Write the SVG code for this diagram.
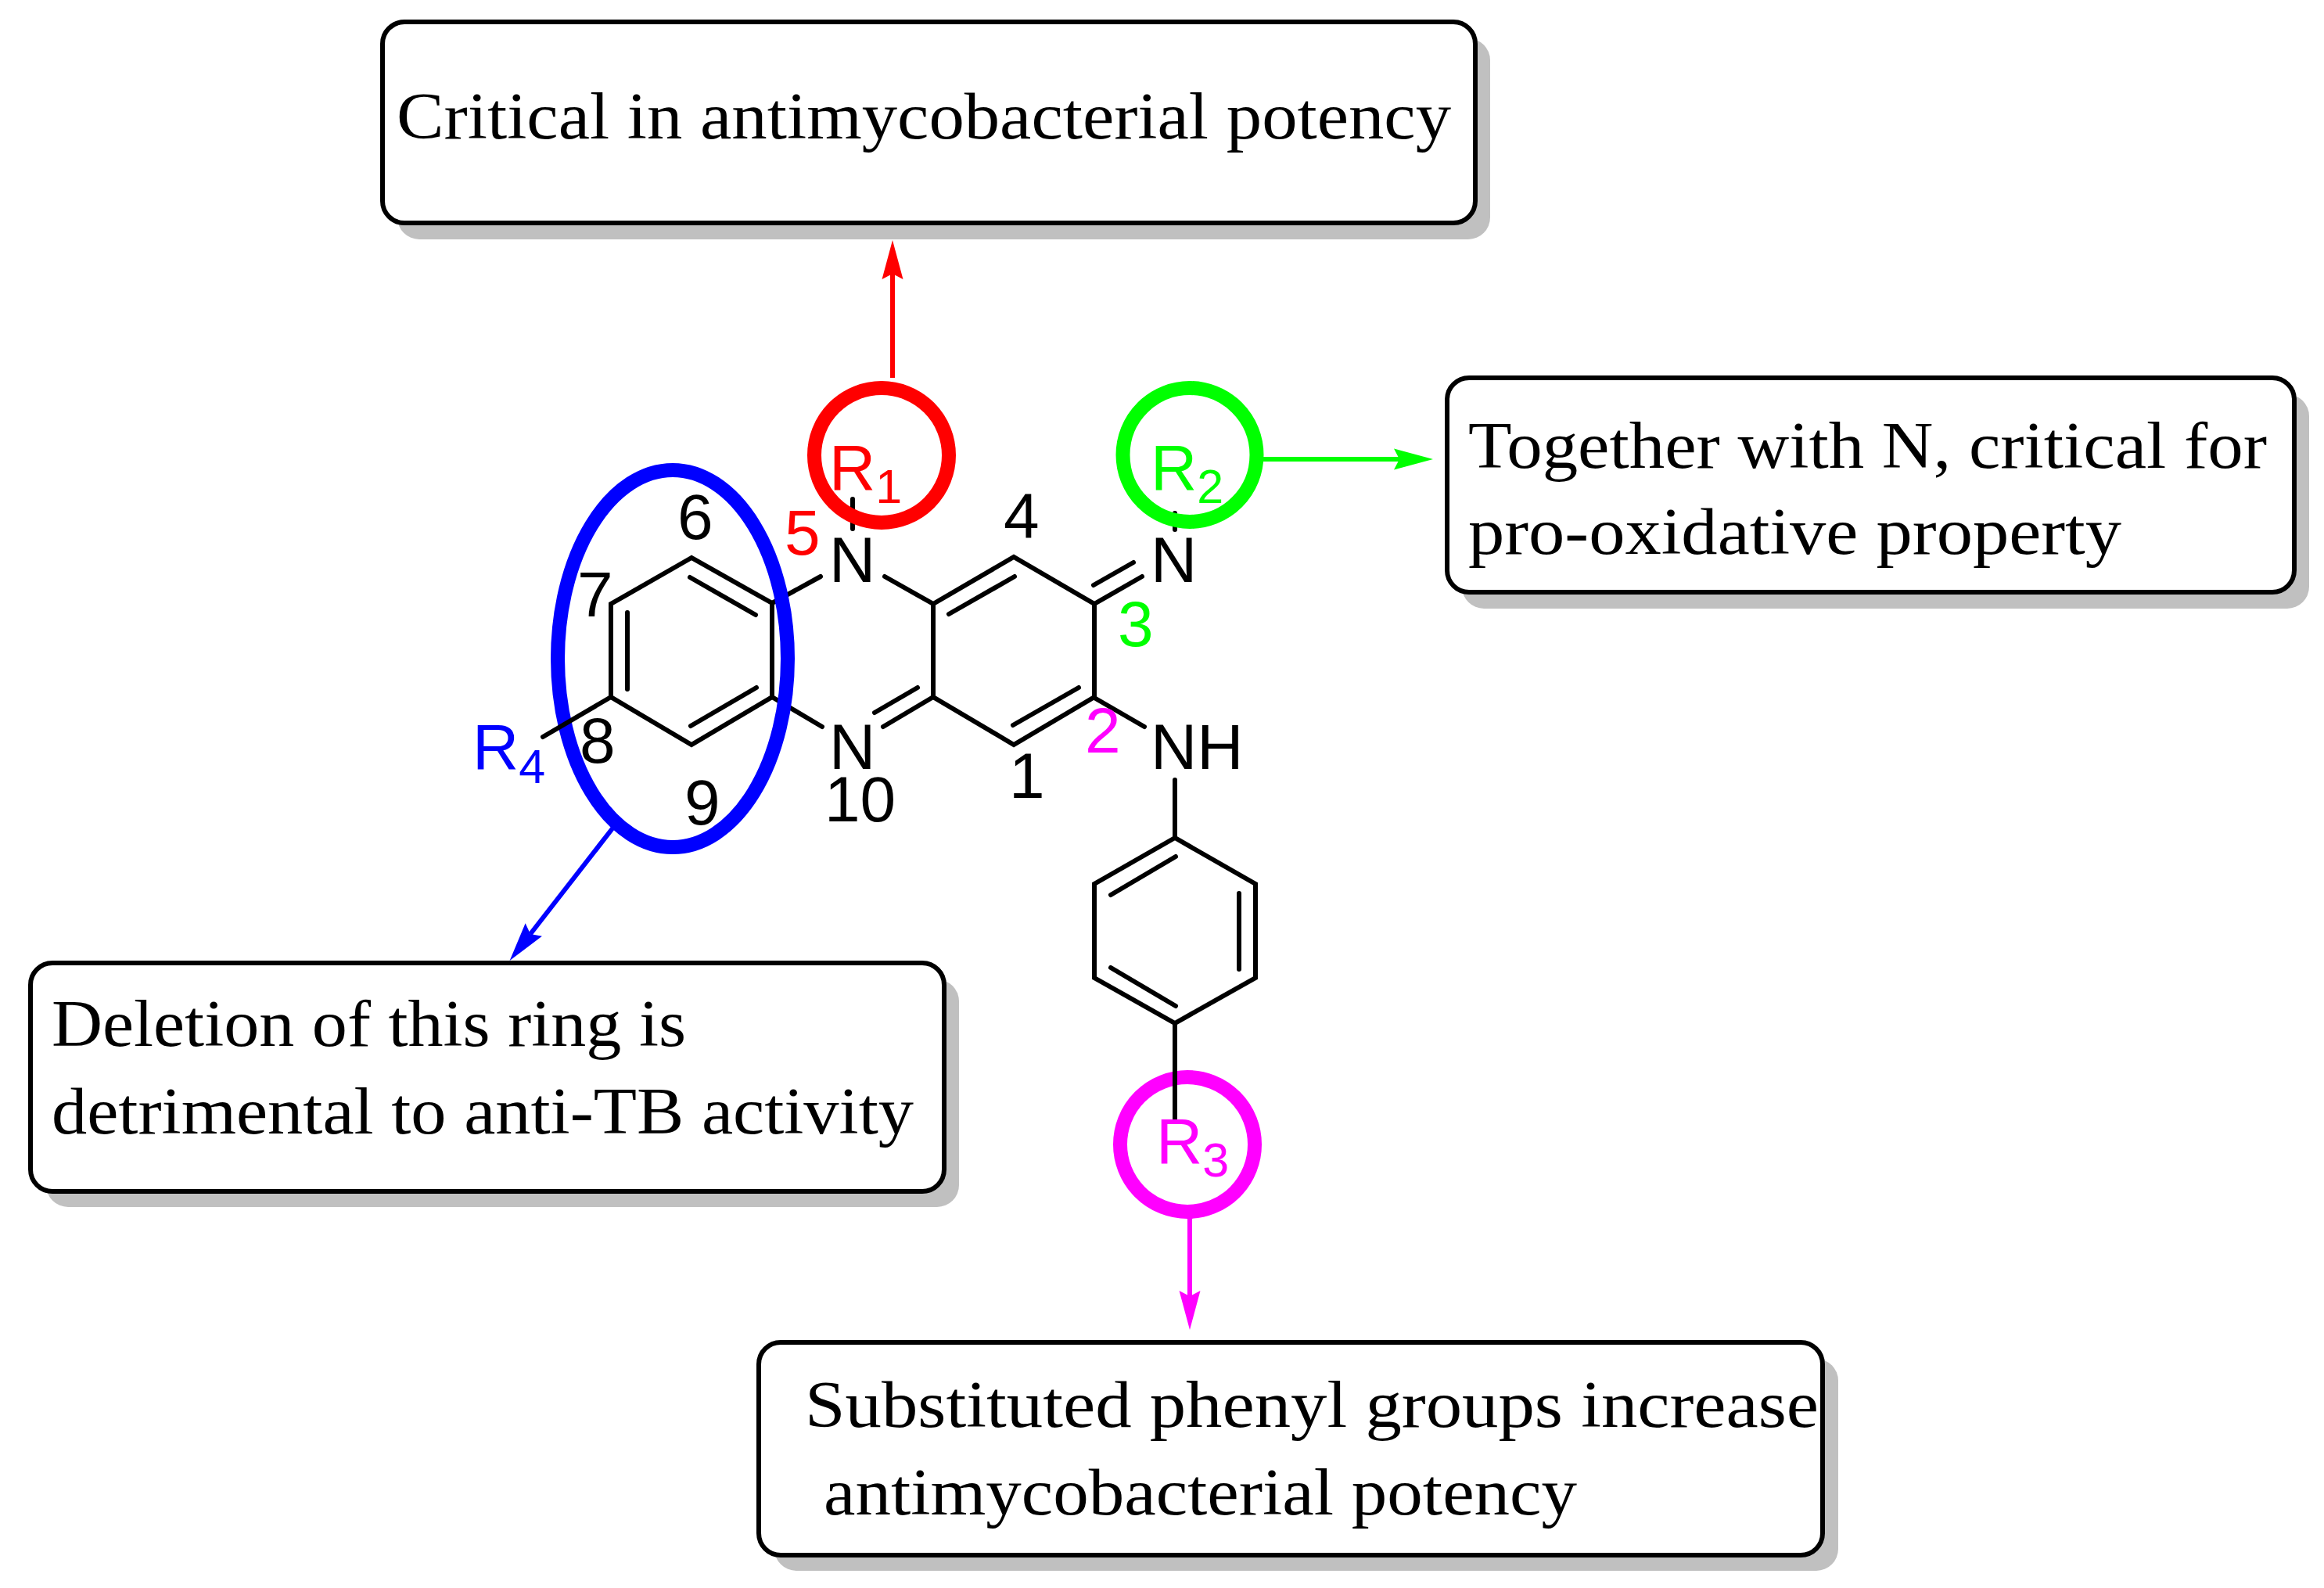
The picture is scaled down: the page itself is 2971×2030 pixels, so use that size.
<svg xmlns="http://www.w3.org/2000/svg" width="2971" height="2030" viewBox="0 0 2971 2030">
<style>
.shadow{fill:#c0c0c0;stroke:none}
.box{fill:#fff;stroke:#000;stroke-width:6}
.cap{font-family:"Liberation Serif",serif;font-size:84px;fill:#000}
.chem{font-family:"Liberation Sans",Arial,sans-serif;font-size:82px}
.sub{font-size:61px}
.bond{fill:none;stroke:#000;stroke-width:6;stroke-linecap:round;stroke-linejoin:miter}
.ring{fill:none;stroke-width:18}
.arr{fill:none;stroke-width:6}
.k{fill:#000}.r{fill:#f00}.g{fill:#0f0}.b{fill:#00f}.m{fill:#f0f}
</style>
<defs>
<marker id="hr" viewBox="0 -14 50 28" markerWidth="50" markerHeight="28" refX="7" refY="0" orient="auto" markerUnits="userSpaceOnUse"><path d="M0,-13.5L50,0L0,13.5L7,0Z" fill="#f00"/></marker>
<marker id="hg" viewBox="0 -14 50 28" markerWidth="50" markerHeight="28" refX="7" refY="0" orient="auto" markerUnits="userSpaceOnUse"><path d="M0,-13.5L50,0L0,13.5L7,0Z" fill="#0f0"/></marker>
<marker id="hb" viewBox="0 -14 50 28" markerWidth="50" markerHeight="28" refX="7" refY="0" orient="auto" markerUnits="userSpaceOnUse"><path d="M0,-13.5L50,0L0,13.5L7,0Z" fill="#00f"/></marker>
<marker id="hm" viewBox="0 -14 50 28" markerWidth="50" markerHeight="28" refX="7" refY="0" orient="auto" markerUnits="userSpaceOnUse"><path d="M0,-13.5L50,0L0,13.5L7,0Z" fill="#f0f"/></marker>
</defs>

<g id="box-potency">
<rect class="shadow" x="508" y="49" width="1397" height="257" rx="28"/>
<rect class="box" x="489" y="28" width="1397" height="257" rx="28"/>
<text class="cap" x="507" y="177" textLength="1348" lengthAdjust="spacingAndGlyphs">Critical in antimycobacterial potency</text>
</g>
<g id="box-prooxidative">
<rect class="shadow" x="1869" y="504" width="1083" height="274" rx="28"/>
<rect class="box" x="1850" y="483" width="1083" height="274" rx="28"/>
<text class="cap" x="1877" y="598" textLength="1021" lengthAdjust="spacingAndGlyphs">Together with N, critical for</text>
<text class="cap" x="1877" y="708" textLength="835" lengthAdjust="spacingAndGlyphs">pro-oxidative property</text>
</g>
<g id="box-ring">
<rect class="shadow" x="59" y="1252" width="1167" height="291" rx="28"/>
<rect class="box" x="39" y="1231" width="1168" height="292" rx="28"/>
<text class="cap" x="66" y="1337" textLength="811" lengthAdjust="spacingAndGlyphs">Deletion of this ring is</text>
<text class="cap" x="66" y="1449" textLength="1102" lengthAdjust="spacingAndGlyphs">detrimental to anti-TB activity</text>
</g>
<g id="box-phenyl">
<rect class="shadow" x="990" y="1737" width="1360" height="271" rx="28"/>
<rect class="box" x="970" y="1716" width="1360" height="272" rx="28"/>
<text class="cap" x="1029" y="1824" textLength="1296" lengthAdjust="spacingAndGlyphs">Substituted phenyl groups increase</text>
<text class="cap" x="1053" y="1936" textLength="963" lengthAdjust="spacingAndGlyphs">antimycobacterial potency</text>
</g>

<g id="connectors">
<line class="arr" x1="1141" y1="483" x2="1141" y2="350" stroke="#f00" marker-end="url(#hr)"/>
<line class="arr" x1="1615" y1="587" x2="1789" y2="587" stroke="#0f0" marker-end="url(#hg)"/>
<line class="arr" x1="783" y1="1059" x2="678" y2="1194" stroke="#00f" marker-end="url(#hb)"/>
<line class="arr" x1="1521" y1="1556" x2="1521" y2="1657" stroke="#f0f" marker-end="url(#hm)"/>
</g>

<ellipse id="highlight-r3" class="ring" cx="1518" cy="1463" rx="86" ry="86" stroke="#f0f"/>

<g id="molecule">
<path class="bond" d="M884,713L781,772V891L884,952L987,891V771Z"/>
<path class="bond" d="M882,738L966,786M802,783V881M883,928L967,879"/>
<path class="bond" d="M987,771L1049,737M987,891L1051,929M1090,638V676"/>
<path class="bond" d="M1131,737L1193,772V891L1296,952L1399,891V772L1296,712L1193,772"/>
<path class="bond" d="M1213,785L1297,737M1295,927L1379,879"/>
<path class="bond" d="M1193,891L1129,929M1173,879L1118,911"/>
<path class="bond" d="M1399,772L1460,737M1398,748L1449,719M1502,656V677"/>
<path class="bond" d="M1399,892L1463,929M1502,997V1071"/>
<path class="bond" d="M1502,1071L1399,1130V1250L1502,1308L1605,1250V1130Z"/>
<path class="bond" d="M1420,1144L1503,1095M1420,1237L1503,1286M1584,1142V1239"/>
<path class="bond" d="M1502,1308V1431"/>
</g>

<ellipse id="highlight-ring" class="ring" cx="860" cy="842" rx="147" ry="241" stroke="#00f"/>
<ellipse id="highlight-r1" class="ring" cx="1127" cy="582" rx="86" ry="86" stroke="#f00"/>
<ellipse id="highlight-r2" class="ring" cx="1521" cy="581.500" rx="85.500" ry="85.500" stroke="#0f0"/>
<path id="bond-r4" class="bond" d="M781,891L694,942"/>

<g id="labels" class="chem">
<text class="k" x="1060" y="744">N</text>
<text class="k" x="1060" y="983">N</text>
<text class="k" x="1471" y="744">N</text>
<text class="k" x="1471" y="983">NH</text>
<text class="r" x="1060" y="626">R<tspan class="sub" dy="17">1</tspan></text>
<text class="g" x="1471" y="626">R<tspan class="sub" dy="17">2</tspan></text>
<text class="m" x="1478" y="1487">R<tspan class="sub" dy="17">3</tspan></text>
<text class="b" x="604" y="983">R<tspan class="sub" dy="18">4</tspan></text>
<text class="k" x="1290" y="1020">1</text>
<text class="m" x="1387" y="962">2</text>
<text class="g" x="1429" y="826">3</text>
<text class="k" x="1283" y="688">4</text>
<text class="r" x="1003" y="709">5</text>
<text class="k" x="866" y="689">6</text>
<text class="k" x="738" y="788">7</text>
<text class="k" x="741" y="975">8</text>
<text class="k" x="875" y="1054">9</text>
<text class="k" x="1054" y="1050">10</text>
</g>
</svg>
